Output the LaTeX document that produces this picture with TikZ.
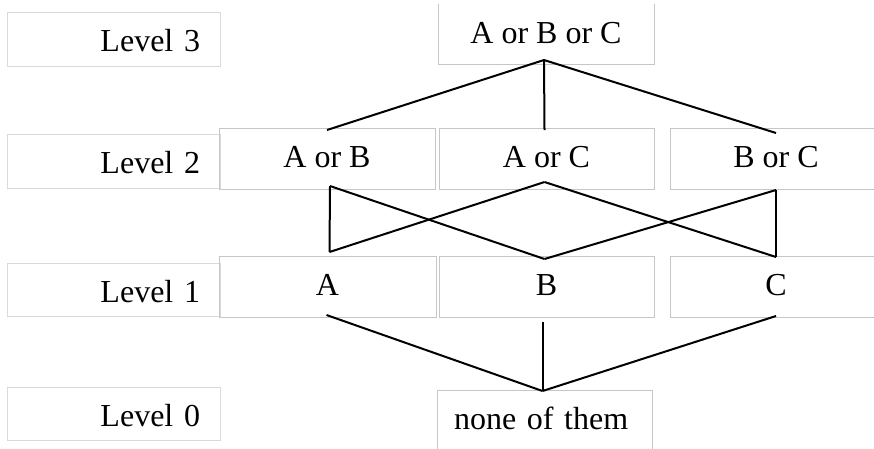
\documentclass[tikz,border=0pt]{standalone}
\usepackage{fontspec}
\setmainfont{Liberation Serif}
\begin{document}
\begin{tikzpicture}[x=1pt,y=-1pt,
  every node/.style={font=\fontsize{32}{36}\selectfont, inner sep=0pt, outer sep=0pt},
  cbox/.style={draw=gray!45, line width=1pt, text height=18pt, text depth=0pt, align=center},
  lbox/.style={draw=gray!30, line width=1pt, minimum width=213pt, text width=173pt, inner xsep=20pt,
               text height=25pt, text depth=0pt, align=right},
  link/.style={line width=2pt, line join=miter}
]
\useasboundingbox (0,0) rectangle (874,448);
\clip (0,0) rectangle (874,448);
% level boxes
\node[lbox, minimum height=54pt] (l3) at (113.5,39) {Level 3};
\node[lbox, minimum height=54pt] (l2) at (113.5,161) {Level 2};
\node[lbox, minimum height=53pt] (l1) at (113.5,289.5) {Level 1};
\node[lbox, minimum height=53pt] (l0) at (113.5,413.5) {Level 0};
% lattice boxes
\node[cbox, draw=none, minimum width=216pt, minimum height=60pt] (abc) at (546,34) {A or B or C};
\draw[gray!45, line width=1pt] (abc.north west) -- (abc.south west) -- (abc.south east) -- (abc.north east);
\node[cbox, minimum width=216pt, minimum height=61pt] (ab) at (327,158.5) {A or B};
\node[cbox, minimum width=215pt, minimum height=61pt] (ac) at (546.5,158.5) {A or C};
\node[cbox, minimum width=212pt, minimum height=61pt] (bc) at (776,158.5) {B or C};
\node[cbox, minimum width=217pt, minimum height=61pt] (a) at (327.5,286.5) {A};
\node[cbox, minimum width=215pt, minimum height=61pt] (b) at (546.5,286.5) {B};
\node[cbox, minimum width=212pt, minimum height=61pt] (c) at (776,286.5) {C};
\node[cbox, minimum width=215pt, minimum height=60pt, text width=205pt, align=left, inner xsep=5pt] (none) at (544.5,420) {\hspace*{12pt}none of them};
% connector end points
\coordinate (apex) at ([xshift=-2pt,yshift=4pt]abc.south);
\coordinate (abT) at ([yshift=-2pt]ab.north);
\coordinate (acT) at ([xshift=-2pt,yshift=-2pt]ac.north);
\coordinate (bcT) at ([yshift=-5pt]bc.north);
\coordinate (abB) at ([xshift=3pt,yshift=3pt]ab.south);
\coordinate (acB) at ([xshift=-2pt,yshift=7pt]ac.south);
\coordinate (bcB) at ([yshift=-1pt]bc.south);
\coordinate (aT) at ([xshift=2pt,yshift=4pt]a.north);
\coordinate (bT) at ([xshift=-2pt,yshift=-3pt]b.north);
\coordinate (cT) at ([yshift=-1pt]c.north);
\coordinate (aB) at ([xshift=-1pt,yshift=2pt]a.south);
\coordinate (bB) at ([xshift=-4pt,yshift=-5pt]b.south);
\coordinate (cB) at ([yshift=1pt]c.south);
\coordinate (noneT) at ([xshift=-2pt,yshift=-1pt]none.north);
% connectors level 3 - level 2
\draw[link] (apex) -- (abT);
\draw[link] (apex) -- (acT);
\draw[link] (apex) -- (bcT);
% connectors level 2 - level 1
\draw[link] (abB) -- (aT);
\draw[link] (abB) -- (bT);
\draw[link] (acB) -- (aT);
\draw[link] (acB) -- (cT);
\draw[link] (bcB) -- (bT);
\draw[link] (bcB) -- (cT);
% connectors level 1 - level 0
\draw[link] (aB) -- (noneT);
\draw[link] (bB) -- (noneT);
\draw[link] (cB) -- (noneT);
\end{tikzpicture}
\end{document}
